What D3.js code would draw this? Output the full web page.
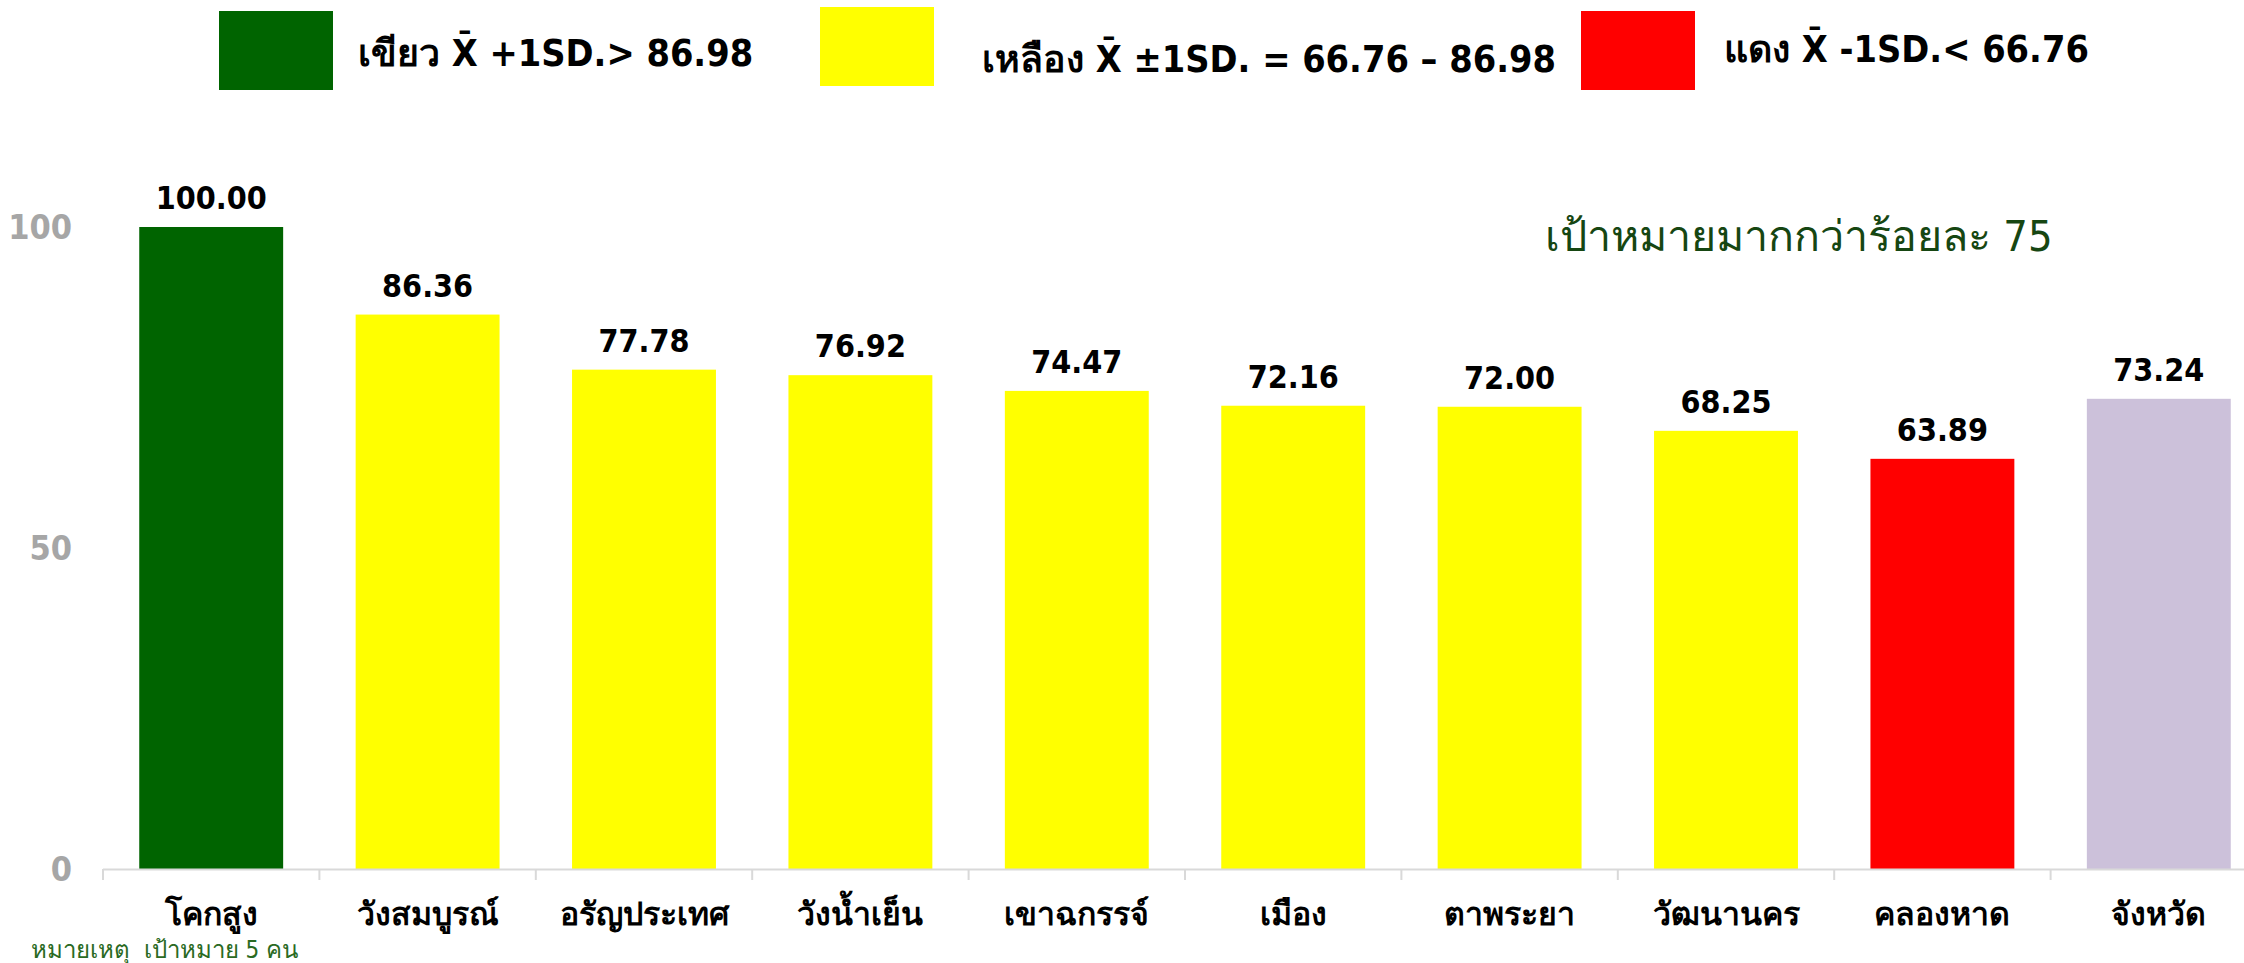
<!DOCTYPE html>
<html>
<head>
<meta charset="utf-8">
<script src="https://cdn.jsdelivr.net/npm/d3@7"></script>
<style>
  body { margin: 0; background: #fff; }
  svg { display: block; }
  text { font-family: "DejaVu Sans Condensed", "DejaVu Sans", sans-serif; }
</style>
</head>
<body>
<script>
// data
const districts = ["โคกสูง", "วังสมบูรณ์", "อรัญประเทศ", "วังน้ำเย็น", "เขาฉกรรจ์", "เมือง", "ตาพระยา", "วัฒนานคร", "คลองหาด", "จังหวัด"];
const percents = [100.00, 86.36, 77.78, 76.92, 74.47, 72.16, 72.00, 68.25, 63.89, 73.24];
const levels = ["green", "yellow", "yellow", "yellow", "yellow", "yellow", "yellow", "yellow", "red", "province"];
const yTicks = [0, 50, 100];
const legendItems = [
  {level: "green", name: "เขียว", rule: "+1SD.> 86.98"},
  {level: "yellow", name: "เหลือง", rule: "±1SD. = 66.76 – 86.98"},
  {level: "red", name: "แดง", rule: "-1SD.< 66.76"}
];
const targetNote = "เป้าหมายมากกว่าร้อยละ 75";
const footNote = "หมายเหตุ  เป้าหมาย 5 คน";

const W = 2244, H = 963;
const levelColor = {green: "#006400", yellow: "#ffff00", red: "#ff0000", province: "#ccc1da"};

const svg = d3.select("body").append("svg")
  .attr("width", W)
  .attr("height", H);

// scales (the plot runs a bit past the right edge, as in the original)
const x = d3.scaleBand()
  .domain(districts)
  .range([103, 2267])
  .paddingInner(0.335)
  .paddingOuter(0.1675);

const y = d3.scaleLinear()
  .domain([0, 100])
  .range([869, 227]);

// bars
svg.append("g")
  .selectAll("rect")
  .data(districts)
  .join("rect")
  .attr("x", d => x(d))
  .attr("y", (d, i) => y(percents[i]))
  .attr("width", x.bandwidth())
  .attr("height", (d, i) => y(0) - y(percents[i]))
  .attr("fill", (d, i) => levelColor[levels[i]]);

// value labels
svg.append("g")
  .selectAll("text")
  .data(districts)
  .join("text")
  .attr("x", d => x(d) + x.bandwidth() / 2)
  .attr("y", (d, i) => y(percents[i]) - 18)
  .attr("text-anchor", "middle")
  .style("font-size", "32px")
  .style("font-weight", "bold")
  .text((d, i) => percents[i].toFixed(2));

// x axis: light line with ticks between categories
const xAxis = svg.append("g");
xAxis.append("line")
  .attr("x1", 103).attr("x2", 2267)
  .attr("y1", y(0) + 0.5).attr("y2", y(0) + 0.5)
  .attr("stroke", "#d9d9d9").attr("stroke-width", 2);
const step = x.step();
xAxis.selectAll(".tick")
  .data(d3.range(districts.length + 1))
  .join("line")
  .attr("class", "tick")
  .attr("x1", i => 103 + i * step).attr("x2", i => 103 + i * step)
  .attr("y1", y(0)).attr("y2", y(0) + 11)
  .attr("stroke", "#d9d9d9").attr("stroke-width", 2);
xAxis.selectAll(".lbl")
  .data(districts)
  .join("text")
  .attr("class", "lbl")
  .attr("x", d => x(d) + x.bandwidth() / 2)
  .attr("y", 925)
  .attr("text-anchor", "middle")
  .style("font-size", "32px")
  .style("font-weight", "bold")
  .text(d => d);

// y tick labels, no axis line
svg.append("g")
  .selectAll("text")
  .data(yTicks)
  .join("text")
  .attr("x", 72)
  .attr("y", d => y(d))
  .attr("dy", "0.36em")
  .attr("text-anchor", "end")
  .attr("fill", "#a6a6a6")
  .style("font-size", "34px")
  .style("font-weight", "bold")
  .text(d => d);

// legend
const legendPos = [
  {bx: 219, by: 11, tx: 358, ty: 66},
  {bx: 820, by: 7, tx: 982, ty: 72},
  {bx: 1581, by: 11, tx: 1724, ty: 62}
];
const lg = svg.append("g")
  .selectAll("g")
  .data(legendItems)
  .join("g");
lg.append("rect")
  .attr("x", (d, i) => legendPos[i].bx)
  .attr("y", (d, i) => legendPos[i].by)
  .attr("width", 114).attr("height", 79)
  .attr("fill", d => levelColor[d.level]);
const lt = lg.append("text")
  .attr("x", (d, i) => legendPos[i].tx)
  .attr("y", (d, i) => legendPos[i].ty)
  .style("font-size", "37.5px")
  .style("font-weight", "bold");
lt.append("tspan").text(d => d.name + " ");
lt.append("tspan").text("X\u0304");
lt.append("tspan").text(d => " " + d.rule);

// target note
svg.append("text")
  .attr("x", 1545)
  .attr("y", 251)
  .attr("fill", "#164612")
  .style("font-size", "43px")
  .text(targetNote);

// foot note
svg.append("text")
  .attr("x", 31)
  .attr("y", 958)
  .attr("fill", "#2a6a22")
  .style("font-size", "24px")
  .style("white-space", "pre")
  .text(footNote);
</script>
</body>
</html>
